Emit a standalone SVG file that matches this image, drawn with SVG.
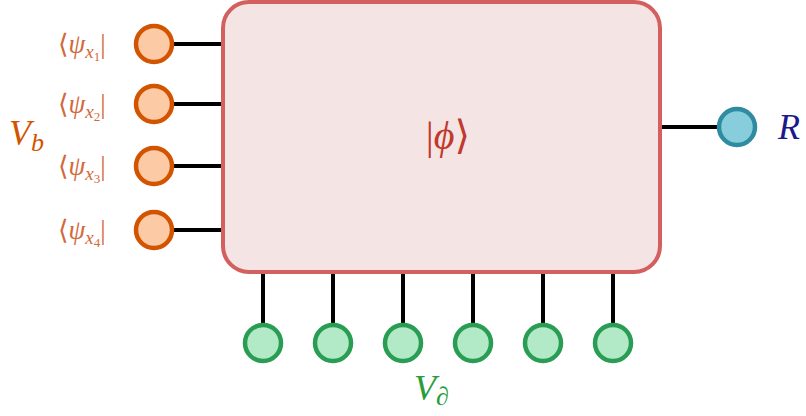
<svg xmlns="http://www.w3.org/2000/svg" width="806" height="416" viewBox="0 0 806 416">
<style>
.wire{stroke:#000;stroke-width:4;fill:none}
.vb{fill:#fdcaa6;stroke:#d35400;stroke-width:4.5}
.vd{fill:#b2e9c7;stroke:#2a9d55;stroke-width:4.5}
.vr{fill:#88cddb;stroke:#2e8ba0;stroke-width:4.5}
.m{font-family:"Liberation Serif","DejaVu Serif",serif;font-style:italic}
.lo{fill:#d2693a;font-size:27px}
.up{font-style:normal}
</style>
<g id="connectors">
<line class="wire" x1="174" y1="44" x2="224" y2="44"/>
<line class="wire" x1="174" y1="104" x2="224" y2="104"/>
<line class="wire" x1="174" y1="166" x2="224" y2="166"/>
<line class="wire" x1="174" y1="230" x2="224" y2="230"/>
<line class="wire" x1="658" y1="127" x2="719" y2="127"/>
<line class="wire" x1="263" y1="270" x2="263" y2="325"/>
<line class="wire" x1="333" y1="270" x2="333" y2="325"/>
<line class="wire" x1="403" y1="270" x2="403" y2="325"/>
<line class="wire" x1="473" y1="270" x2="473" y2="325"/>
<line class="wire" x1="543" y1="270" x2="543" y2="325"/>
<line class="wire" x1="613" y1="270" x2="613" y2="325"/>
</g>
<g id="phi">
<rect x="223" y="2" width="437" height="270" rx="26" fill="#f5e4e4" stroke="#d45f5f" stroke-width="4"/>
<text x="448" y="149" text-anchor="middle" class="m" font-size="40" fill="#c0392b"><tspan class="up">|</tspan>ϕ<tspan class="up">⟩</tspan></text>
</g>
<g id="b1"><circle class="vb" cx="154" cy="44" r="18"/><text class="m lo" x="58" y="53"><tspan class="up">⟨</tspan>ψ<tspan font-size="19" dy="5">x</tspan><tspan font-size="13" class="up" dy="3">1</tspan><tspan class="up" dy="-8">|</tspan></text></g>
<g id="b2"><circle class="vb" cx="154" cy="104" r="18"/><text class="m lo" x="58" y="113"><tspan class="up">⟨</tspan>ψ<tspan font-size="19" dy="5">x</tspan><tspan font-size="13" class="up" dy="3">2</tspan><tspan class="up" dy="-8">|</tspan></text></g>
<g id="b3"><circle class="vb" cx="154" cy="166" r="18"/><text class="m lo" x="58" y="175"><tspan class="up">⟨</tspan>ψ<tspan font-size="19" dy="5">x</tspan><tspan font-size="13" class="up" dy="3">3</tspan><tspan class="up" dy="-8">|</tspan></text></g>
<g id="b4"><circle class="vb" cx="154" cy="230" r="18"/><text class="m lo" x="58" y="239"><tspan class="up">⟨</tspan>ψ<tspan font-size="19" dy="5">x</tspan><tspan font-size="13" class="up" dy="3">4</tspan><tspan class="up" dy="-8">|</tspan></text></g>
<g id="Vb"><text class="m" x="9" y="145" font-size="36" fill="#d35400">V<tspan font-size="26" dy="6">b</tspan></text></g>
<g id="R"><circle class="vr" cx="737" cy="127" r="18"/><text class="m" x="778" y="139" font-size="36" fill="#1a1a8c">R</text></g>
<g id="d1"><circle class="vd" cx="263" cy="343" r="18"/></g>
<g id="d2"><circle class="vd" cx="333" cy="343" r="18"/></g>
<g id="d3"><circle class="vd" cx="403" cy="343" r="18"/></g>
<g id="d4"><circle class="vd" cx="473" cy="343" r="18"/></g>
<g id="d5"><circle class="vd" cx="543" cy="343" r="18"/></g>
<g id="d6"><circle class="vd" cx="613" cy="343" r="18"/></g>
<g id="Vd"><text class="m" x="414" y="400" font-size="36" fill="#2a9d3a">V<tspan font-size="26" dy="5">∂</tspan></text></g>
</svg>
